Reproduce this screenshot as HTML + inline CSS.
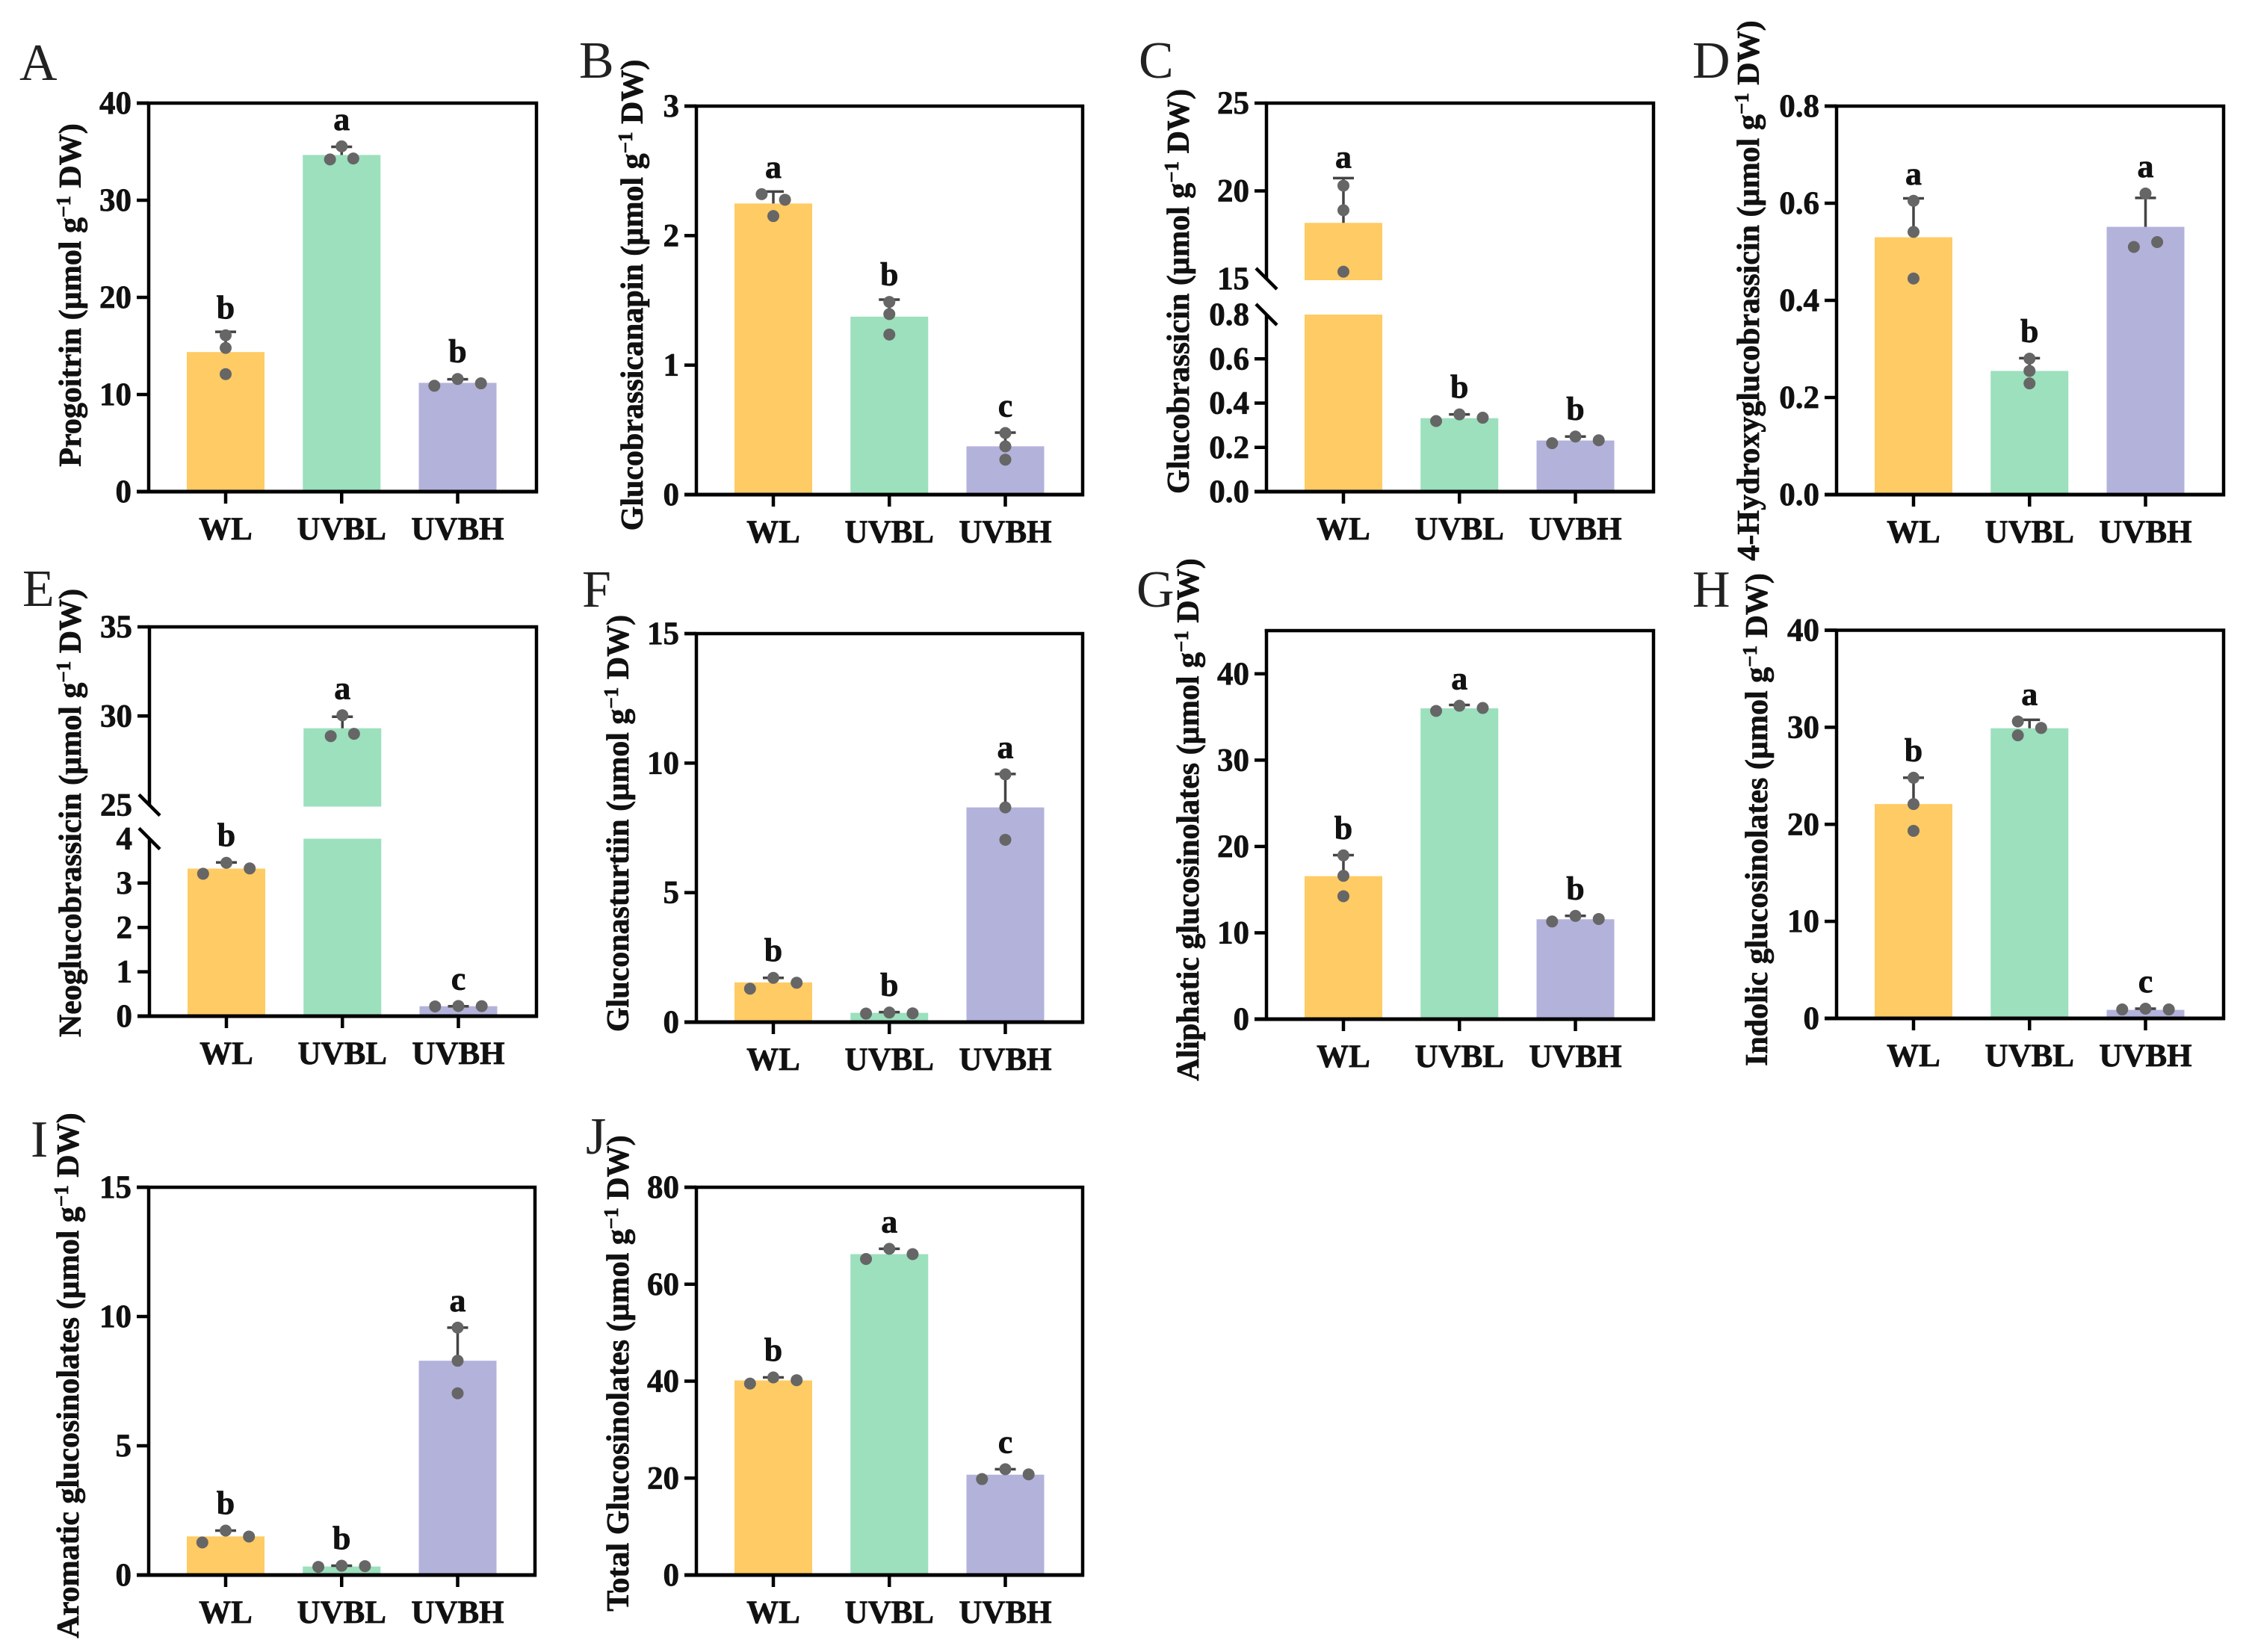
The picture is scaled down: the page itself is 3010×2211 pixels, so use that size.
<!DOCTYPE html>
<html lang="en">
<head>
<meta charset="utf-8">
<title>Glucosinolate content bar charts</title>
<style>
html,body{margin:0;padding:0;background:#fff;}
svg{display:block;}
text{font-family:"Liberation Serif","DejaVu Serif",serif;fill:#111;}
.bold{font-weight:bold;stroke:#111;stroke-width:0.7px;}
</style>
</head>
<body>
<svg id="figure" xmlns="http://www.w3.org/2000/svg" width="3010" height="2211" viewBox="0 0 3010 2211"></svg>
<script>
const categories = ['WL', 'UVBL', 'UVBH'];
const barColors = ['#FFCB64', '#9CE0BD', '#B3B2DB'];

const aTicks = ['0', '10', '20', '30', '40'];
const aMeans = [14.37, 34.66, 11.2];
const aCaps = [16.45, 35.5, 11.57];
const aDots = [[16.1, 14.8, 12.1], [34.2, 35.55, 34.3], [10.9, 11.6, 11.15]];
const aSlots = [[0, 0, 0], [-1, 0, 1], [-2, 0, 2]];
const aSig = ['b', 'a', 'b'];

const bTicks = ['0', '1', '2', '3'];
const bMeans = [2.248, 1.374, 0.373];
const bCaps = [2.34, 1.506, 0.479];
const bDots = [[2.32, 2.151, 2.277], [1.488, 1.394, 1.236], [0.476, 0.373, 0.27]];
const bSlots = [[-1, 0, 1], [0, 0, 0], [0, 0, 0]];
const bSig = ['a', 'b', 'c'];

const cTicks = ['0.0', '0.2', '0.4', '0.6', '0.8', '15', '20', '25'];
const cBreak = [0.8, 15];
const cMeans = [18.18, 0.332, 0.231];
const cCaps = [20.73, 0.349, 0.249];
const cDots = [[20.3, 18.9, 15.4], [0.319, 0.349, 0.334], [0.219, 0.249, 0.232]];
const cSlots = [[0, 0, 0], [-2, 0, 2], [-2, 0, 2]];
const cSig = ['a', 'b', 'b'];

const dTicks = ['0.0', '0.2', '0.4', '0.6', '0.8'];
const dMeans = [0.53, 0.2547, 0.5514];
const dCaps = [0.61, 0.281, 0.611];
const dDots = [[0.605, 0.541, 0.445], [0.28, 0.2547, 0.229], [0.51, 0.62, 0.52]];
const dSlots = [[0, 0, 0], [0, 0, 0], [-1, 0, 1]];
const dSig = ['a', 'b', 'a'];

const eTicks = ['0', '1', '2', '3', '4', '25', '30', '35'];
const eBreak = [4, 25];
const eMeans = [3.326, 29.31, 0.224];
const eCaps = [3.465, 29.96, 0.224];
const eDots = [[3.21, 3.457, 3.33], [28.87, 30.04, 29.0], [0.22, 0.23, 0.225]];
const eSlots = [[-2, 0, 2], [-1, 0, 1], [-2, 0, 2]];
const eSig = ['b', 'a', 'c'];

const fTicks = ['0', '5', '10', '15'];
const fMeans = [1.534, 0.359, 8.29];
const fCaps = [1.71, 0.387, 9.58];
const fDots = [[1.29, 1.71, 1.52], [0.33, 0.37, 0.34], [9.565, 8.29, 7.04]];
const fSlots = [[-2, 0, 2], [-2, 0, 2], [0, 0, 0]];
const fSig = ['b', 'b', 'a'];

const gTicks = ['0', '10', '20', '30', '40'];
const gMeans = [16.56, 36.0, 11.57];
const gCaps = [19.0, 36.39, 11.96];
const gDots = [[18.97, 16.6, 14.24], [35.7, 36.3, 36.04], [11.31, 11.96, 11.6]];
const gSlots = [[0, 0, 0], [-2, 0, 2], [-2, 0, 2]];
const gSig = ['b', 'a', 'b'];

const hTicks = ['0', '10', '20', '30', '40'];
const hMeans = [22.09, 29.9, 0.88];
const hCaps = [24.8, 30.77, 1.0];
const hDots = [[24.8, 22.09, 19.33], [30.6, 29.17, 29.93], [0.92, 1.0, 0.92]];
const hSlots = [[0, 0, 0], [-1, -1, 1], [-2, 0, 2]];
const hSig = ['b', 'a', 'c'];

const iTicks = ['0', '5', '10', '15'];
const iMeans = [1.494, 0.33, 8.29];
const iCaps = [1.72, 0.36, 9.57];
const iDots = [[1.26, 1.72, 1.49], [0.316, 0.36, 0.345], [9.57, 8.29, 7.03]];
const iSlots = [[-2, 0, 2], [-2, 0, 2], [0, 0, 0]];
const iSig = ['b', 'b', 'a'];

const jTicks = ['0', '20', '40', '60', '80'];
const jMeans = [40.15, 66.2, 20.7];
const jCaps = [40.77, 67.3, 21.84];
const jDots = [[39.5, 40.77, 40.2], [65.2, 67.3, 66.2], [19.8, 21.84, 20.77]];
const jSlots = [[-2, 0, 2], [-2, 0, 2], [-2, 0, 2]];
const jSig = ['b', 'a', 'c'];

const panels = [
  {id:'A', name:'Progoitrin', max:40, ticks:aTicks, means:aMeans, caps:aCaps, dots:aDots, slots:aSlots, sig:aSig,
   L:199, R:718, T:138, B:658, tx:108, tc:395, lx:26, ly:107},
  {id:'B', name:'Glucobrassicanapin', max:3, ticks:bTicks, means:bMeans, caps:bCaps, dots:bDots, slots:bSlots, sig:bSig,
   L:932, R:1449, T:142, B:662, tx:860, tc:395, lx:775, ly:104},
  {id:'C', name:'Glucobrassicin', max:25, brk:cBreak, ticks:cTicks, means:cMeans, caps:cCaps, dots:cDots, slots:cSlots, sig:cSig,
   L:1695, R:2213, T:138, B:658, tx:1591, tc:390, lx:1524, ly:104, brkLow:421, brkHigh:373},
  {id:'D', name:'4-Hydroxyglucobrassicin', max:0.8, ticks:dTicks, means:dMeans, caps:dCaps, dots:dDots, slots:dSlots, sig:dSig,
   L:2458, R:2976, T:142, B:662, tx:2354, tc:389, lx:2265, ly:104},
  {id:'E', name:'Neoglucobrassicin', max:35, brk:eBreak, ticks:eTicks, means:eMeans, caps:eCaps, dots:eDots, slots:eSlots, sig:eSig,
   L:200, R:718, T:839, B:1360, tx:108, tc:1088, lx:30, ly:811, brkLow:1122.5, brkHigh:1077.5},
  {id:'F', name:'Gluconasturtiin', max:15, ticks:fTicks, means:fMeans, caps:fCaps, dots:fDots, slots:fSlots, sig:fSig,
   L:932, R:1449, T:848, B:1368, tx:841, tc:1102, lx:779, ly:812},
  {id:'G', name:'Aliphatic glucosinolates', max:45, ticks:gTicks, means:gMeans, caps:gCaps, dots:gDots, slots:gSlots, sig:gSig,
   L:1695, R:2213, T:844, B:1364, tx:1604, tc:1097, lx:1521, ly:812},
  {id:'H', name:'Indolic glucosinolates', max:40, ticks:hTicks, means:hMeans, caps:hCaps, dots:hDots, slots:hSlots, sig:hSig,
   L:2458, R:2976, T:843.5, B:1363, tx:2365, tc:1097, lx:2265, ly:812},
  {id:'I', name:'Aromatic glucosinolates', max:15, ticks:iTicks, means:iMeans, caps:iCaps, dots:iDots, slots:iSlots, sig:iSig,
   L:199, R:716, T:1589, B:2108, tx:105, tc:1841, lx:41, ly:1548},
  {id:'J', name:'Total Glucosinolates', max:80, ticks:jTicks, means:jMeans, caps:jCaps, dots:jDots, slots:jSlots, sig:jSig,
   L:932, R:1449, T:1589, B:2108, tx:841, tc:1838, lx:784, ly:1544}
];

const SVGNS = 'http://www.w3.org/2000/svg';
const BAR_W = 104;
const SLOT_W = 15.6;
const DOT_R = 8;
const figure = document.getElementById('figure');

function make(tag, attrs, parent, text) {
  const n = document.createElementNS(SVGNS, tag);
  Object.keys(attrs).forEach(function (k) { n.setAttribute(k, attrs[k]); });
  if (text !== undefined) n.textContent = text;
  parent.appendChild(n);
  return n;
}

function yScale(p) {
  if (!p.brk) {
    return function (v) { return p.B - (v / p.max) * (p.B - p.T); };
  }
  return function (v) {
    if (v <= p.brk[0]) return p.B - (v / p.brk[0]) * (p.B - p.brkLow);
    return p.brkHigh - ((v - p.brk[1]) / (p.max - p.brk[1])) * (p.brkHigh - p.T);
  };
}

function xCenter(p, i) {
  return p.L + 103 + i * 155.25;
}

panels.forEach(function (p) {
  const y = yScale(p);
  const g = make('g', {}, figure);
  
  

  const letter = make('text', {x:p.lx, y:p.ly, 'font-size':70, style:'fill:#222'}, g, p.id);
  
  

  const title = make('text', {'class':'bold', 'font-size':42, 'text-anchor':'middle',
    transform:'translate(' + p.tx + ',' + p.tc + ') rotate(-90)', x:0, y:0}, g);
  
  
  make('tspan', {}, title, p.name + ' (\u00B5mol g');
  make('tspan', {dy:-14, 'font-size':27}, title, '\u22121');
  make('tspan', {dy:14}, title, ' DW)');

  p.means.forEach(function (m, i) {
    const cx = xCenter(p, i);
    const barAttrs = {x:cx - BAR_W / 2, width:BAR_W, fill:barColors[i]};
    if (p.brk && m > p.brk[0]) {
      const low = make('rect', Object.assign({y:p.brkLow, height:p.B - p.brkLow}, barAttrs), g);
      
      
      const high = make('rect', Object.assign({y:y(m), height:p.brkHigh + 2 - y(m)}, barAttrs), g);
      
      
    } else {
      const bar = make('rect', Object.assign({y:y(m), height:p.B - y(m)}, barAttrs), g);
      
      
    }

    const stem = make('line', {x1:cx, x2:cx, y1:y(m), y2:y(p.caps[i]), stroke:'#444', 'stroke-width':3.5}, g);
    
    
    const cap = make('line', {x1:cx - 14, x2:cx + 14, y1:y(p.caps[i]), y2:y(p.caps[i]), stroke:'#444', 'stroke-width':3.5}, g);
    
    

    p.dots[i].forEach(function (v, j) {
      const dot = make('circle', {cx:cx + p.slots[i][j] * SLOT_W, cy:y(v), r:DOT_R, fill:'#666'}, g);
      
      
    });

    const highest = Math.min(y(p.caps[i]), Math.min.apply(null, p.dots[i].map(y)) - DOT_R);
    const sig = make('text', {'class':'bold', x:cx, y:highest - 14, 'font-size':44, 'text-anchor':'middle'}, g, p.sig[i]);
    
    

    const tick = make('line', {x1:cx, x2:cx, y1:p.B, y2:p.B + 16, stroke:'#000', 'stroke-width':4.5}, g);
    
    
    const xl = make('text', {'class':'bold', x:cx, y:p.B + 64, 'font-size':43, 'text-anchor':'middle'}, g, categories[i]);
    
    
  });

  p.ticks.forEach(function (t) {
    const v = parseFloat(t);
    const ty = y(v);
    const isBreak = p.brk && (v === p.brk[0] || v === p.brk[1]);
    if (!isBreak) {
      const mark = make('line', {x1:p.L - 16, x2:p.L, y1:ty, y2:ty, stroke:'#000', 'stroke-width':4.5}, g);
      
      
    }
    const lab = make('text', {'class':'bold', x:p.L - 23, y:ty + 14, 'font-size':43, 'text-anchor':'end'}, g, t);
    
    
  });

  const frame = make('path', {d:'M' + p.L + ' ' + p.T + 'H' + p.R + 'V' + p.B, fill:'none', stroke:'#000', 'stroke-width':4.5, 'stroke-linecap':'square'}, g);
  
  
  const xAxis = make('line', {x1:p.L - 16, x2:p.R + 2, y1:p.B, y2:p.B, stroke:'#000', 'stroke-width':5}, g);
  
  

  if (p.brk) {
    const upperAxis = make('line', {x1:p.L, x2:p.L, y1:p.T - 2, y2:p.brkHigh, stroke:'#000', 'stroke-width':4.5}, g);
    
    
    const lowerAxis = make('line', {x1:p.L, x2:p.L, y1:p.brkLow, y2:p.B, stroke:'#000', 'stroke-width':4.5}, g);
    
    
    [p.brkHigh, p.brkLow].forEach(function (by) {
      const slash = make('line', {x1:p.L - 14, x2:p.L + 14, y1:by - 14, y2:by + 14, stroke:'#000', 'stroke-width':4.5}, g);
      
      
    });
  } else {
    const yAxis = make('line', {x1:p.L, x2:p.L, y1:p.T - 2, y2:p.B, stroke:'#000', 'stroke-width':4.5}, g);
    
    
    const topTickVal = parseFloat(p.ticks[p.ticks.length - 1]);
    if (topTickVal === p.max) {
      const topExt = make('line', {x1:p.L - 16, x2:p.L, y1:p.T, y2:p.T, stroke:'#000', 'stroke-width':4.5}, g);
      
      
    }
  }
});
</script>
</body>
</html>
